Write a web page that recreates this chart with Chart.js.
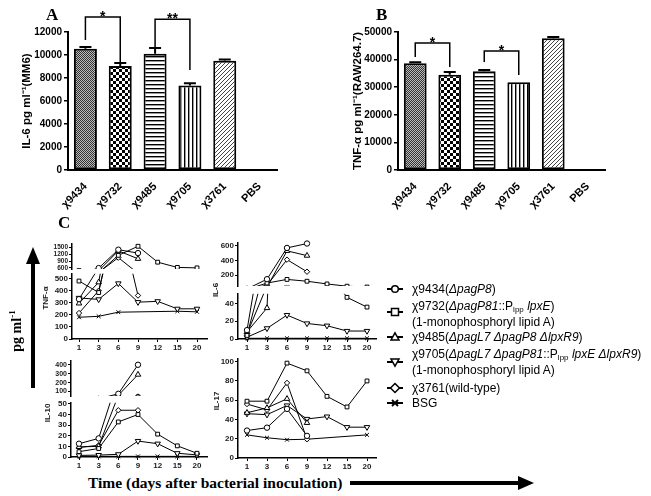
<!DOCTYPE html>
<html>
<head>
<meta charset="utf-8">
<script src="https://cdn.jsdelivr.net/npm/chart.js@4.4.0/dist/chart.umd.min.js"></script>
<style>
  html, body { margin: 0; padding: 0; background: #fff; }
  body { position: relative; width: 651px; height: 496px; overflow: hidden; font-family: "Liberation Sans", Arial, sans-serif; color: #000; }
  canvas { position: absolute; }
  .t { position: absolute; white-space: nowrap; line-height: 1; }
  .serif { font-family: "Liberation Serif", "Times New Roman", serif; font-weight: bold; }
  .rot { transform: translate(-50%, -50%) rotate(-90deg); }
  .small { font-size: 8px; font-weight: bold; color: #222; }
  .legline { position: absolute; left: 412px; font-size: 12px; line-height: 14px; white-space: nowrap; transform: translateY(-50%); }
  .legmark { position: absolute; left: 386px; }
  sub { font-size: 8px; vertical-align: -2px; line-height: 0; }
</style>
</head>
<body>
<canvas id="barA"></canvas>
<canvas id="barB"></canvas>
<canvas id="tnfUp"></canvas>
<canvas id="tnfLo"></canvas>
<canvas id="il6Up"></canvas>
<canvas id="il6Lo"></canvas>
<canvas id="il10Up"></canvas>
<canvas id="il10Lo"></canvas>
<canvas id="il17"></canvas>

<div class="t serif" style="left:46px;top:6px;font-size:17px">A</div>
<div class="t serif" style="left:376px;top:6px;font-size:17px">B</div>
<div class="t serif" style="left:58px;top:214px;font-size:17px">C</div>
<div class="t small rot" style="left:46px;top:298px">TNF-α</div>
<div class="t small rot" style="left:216px;top:290px">IL-6</div>
<div class="t small rot" style="left:48px;top:413px">IL-10</div>
<div class="t small rot" style="left:217px;top:401px">IL-17</div>
<div class="t serif rot" style="left:16px;top:331px;font-size:14px">pg ml<sup style="font-size:9px">-1</sup></div>
<div class="t serif" style="left:88px;top:475px;font-size:15.5px">Time (days after bacterial inoculation)</div>

<svg style="position:absolute;left:0;top:0" width="651" height="496">
  <line x1="33" y1="262" x2="33" y2="388" stroke="#000" stroke-width="4"/>
  <polygon points="26,264 40,264 33,247" fill="#000"/>
  <line x1="350" y1="483" x2="520" y2="483" stroke="#000" stroke-width="4"/>
  <polygon points="518,476 518,490 534,483" fill="#000"/>
</svg>

<div id="legend"></div>

<script>
// panels A and B: in vitro cytokine release
const strains = ['χ9434', 'χ9732', 'χ9485', 'χ9705', 'χ3761', 'PBS'];
const il6Mm6 = [10550, 9050, 10100, 7350, 9500, 0];
const il6Mm6Err = [150, 250, 500, 200, 100, 0];
const il6Mm6Ticks = [0, 2000, 4000, 6000, 8000, 10000, 12000];
const tnfRaw = [38700, 34500, 35800, 31800, 47700, 0];
const tnfRawErr = [300, 1000, 400, 0, 500, 0];
const tnfRawTicks = [0, 10000, 20000, 30000, 40000, 50000];

// panel C: serum cytokines, one row per group (same order as groups)
const days = ['1', '3', '6', '9', '12', '15', '20'];
const groups = ['χ9434', 'χ9732', 'χ9485', 'χ9705', 'χ3761', 'BSG'];
const tnfC = [
  [330, 590, 1400, 1250],
  [480, 385, 1150, 1550, 850, 620, 600],
  [295, 470, 1350, 1000],
  [340, 328, 460, 305, 312, 250, 250],
  [215, 400, 1050, 360],
  [180, 188, 222, null, null, 230, 225]
];
const il6C = [
  [10, 143, 570, 630],
  [4, 90, 140, 115, 78, 47, 36],
  [8, 35, 530, 465],
  [2, 12, 27, 17.5, 15, 9, 9],
  [6, 60, 410, 245],
  [0.8, 0.8, 0.8, 0.8, 0.8, 0.8, 0.8]
];
const il10C = [
  [12.5, 17.5, 75, 400],
  [5, 8, 33, 40, 21.5, 10.5, 3.5],
  [9.5, 10, 58, 290],
  [1.5, 1.8, 2.5, 15, 12.5, 3.5, 2],
  [9, 11, 44, 44],
  [0.6, 0.6, 0.6, 0.6, 0.6, 0.6, 0.6]
];
const il17C = [
  [28.5, 31.5, 51, 23],
  [59, 59, 98.5, 90.5, 64, 53, 80],
  [47, 52, 61.5, 36.5],
  [46, 45, 54.5, 40.5, 43, 32, 32],
  [56, 50, 78, 19.5],
  [24, 21, 19, 19.5, null, null, 24]
];
const tnfLoTicks = [0, 100, 200, 300, 400, 500];
const tnfUpTicks = [600, 900, 1200, 1500];
const il6LoTicks = [0, 20, 40];
const il6UpTicks = [200, 400, 600];
const il10LoTicks = [0, 10, 20, 30, 40, 50];
const il10UpTicks = [100, 200, 300, 400];
const il17Ticks = [0, 20, 40, 60, 80, 100];

const markers = ['circle', 'rect', 'triangle', 'triangle', 'rectRot', 'crossRot'];
const legendLines = [
  ['χ9434(<i>ΔpagP8</i>)'],
  ['χ9732(<i>ΔpagP81</i>::P<sub>lpp</sub> <i>lpxE</i>)', '(1-monophosphoryl lipid A)'],
  ['χ9485(<i>ΔpagL7 ΔpagP8 ΔlpxR9</i>)'],
  ['χ9705(<i>ΔpagL7 ΔpagP81</i>::P<sub>lpp</sub> <i>lpxE ΔlpxR9</i>)', '(1-monophosphoryl lipid A)'],
  ['χ3761(wild-type)'],
  ['BSG']
];

Chart.defaults.font.family = '"Liberation Sans", Arial, sans-serif';
Chart.defaults.color = '#000';

// put a canvas so that its chart area lands on the given box
function mount(id, plot, yw, xh, pad) {
  const c = document.getElementById(id);
  const w = plot.r - plot.l + yw + pad.r;
  const h = plot.b - plot.t + pad.t + xh + pad.b;
  c.style.left = (plot.l - yw) + 'px';
  c.style.top = (plot.t - pad.t) + 'px';
  c.width = w; c.height = h;
  c.style.width = w + 'px'; c.style.height = h + 'px';
  return c;
}

function makePattern(w, h, paint) {
  const c = document.createElement('canvas');
  c.width = w; c.height = h;
  const g = c.getContext('2d');
  g.fillStyle = '#fff'; g.fillRect(0, 0, w, h);
  g.fillStyle = '#000';
  paint(g);
  return g.createPattern(c, 'repeat');
}
const fills = [
  makePattern(2, 2, g => { g.fillStyle = '#bbb'; g.fillRect(0, 0, 2, 2); g.fillStyle = '#333'; g.fillRect(0, 0, 1, 1); g.fillRect(1, 1, 1, 1); }),
  makePattern(6, 6, g => { g.fillRect(0, 0, 3, 3); g.fillRect(3, 3, 3, 3); }),
  makePattern(1, 4, g => { g.fillRect(0, 0, 1, 1.4); }),
  makePattern(4, 1, g => { g.fillRect(0, 0, 1.4, 1); }),
  makePattern(4, 4, g => { g.fillStyle = '#444'; g.fillRect(3, 0, 1, 1); g.fillRect(2, 1, 1, 1); g.fillRect(1, 2, 1, 1); g.fillRect(0, 3, 1, 1); }),
  '#fff'
];

function errBars(errs) {
  return {
    id: 'errBars',
    afterDatasetsDraw(chart) {
      const ctx = chart.ctx, y = chart.scales.y, meta = chart.getDatasetMeta(0);
      const vals = chart.data.datasets[0].data;
      ctx.save();
      ctx.strokeStyle = '#000'; ctx.lineWidth = 2;
      meta.data.forEach((bar, i) => {
        if (!errs[i]) return;
        const yt = y.getPixelForValue(vals[i] + errs[i]);
        ctx.beginPath();
        ctx.moveTo(bar.x, bar.y); ctx.lineTo(bar.x, yt);
        ctx.moveTo(bar.x - 6, yt); ctx.lineTo(bar.x + 6, yt);
        ctx.stroke();
      });
      ctx.restore();
    }
  };
}

function brackets(list) {
  return {
    id: 'brackets',
    afterDraw(chart) {
      const ctx = chart.ctx, y = chart.scales.y, meta = chart.getDatasetMeta(0);
      ctx.save();
      ctx.strokeStyle = '#000'; ctx.fillStyle = '#000'; ctx.lineWidth = 1.5;
      ctx.font = 'bold 14px "Liberation Sans", Arial';
      ctx.textAlign = 'center'; ctx.textBaseline = 'alphabetic';
      list.forEach(b => {
        const x1 = meta.data[b.from].x, x2 = meta.data[b.to].x;
        const yt = y.getPixelForValue(b.top);
        ctx.beginPath();
        ctx.moveTo(x1, y.getPixelForValue(b.left));
        ctx.lineTo(x1, yt); ctx.lineTo(x2, yt);
        ctx.lineTo(x2, y.getPixelForValue(b.right));
        ctx.stroke();
        ctx.fillText(b.mark, (x1 + x2) / 2, yt + 4);
      });
      ctx.restore();
    }
  };
}

function barChart(id, plot, values, errs, ticks, title, marks) {
  const xh = 46, pad = { t: plot.t, r: 8, b: 0 };
  const cv = mount(id, plot, plot.yw, xh, pad);
  return new Chart(cv, {
    type: 'bar',
    data: {
      labels: strains,
      datasets: [{
        data: values, backgroundColor: fills, borderColor: '#000', borderWidth: 2,
        borderSkipped: false, barPercentage: 0.66, categoryPercentage: 1
      }]
    },
    options: {
      responsive: false, animation: false,
      layout: { padding: { top: pad.t, right: pad.r, bottom: 0, left: 0 } },
      plugins: { legend: { display: false }, tooltip: { enabled: false } },
      scales: {
        x: {
          grid: { display: false },
          border: { color: '#000', width: 2 },
          ticks: { minRotation: 45, maxRotation: 45, font: { size: 11, weight: 'bold' }, padding: 2 },
          afterFit: s => { s.height = xh; }
        },
        y: {
          min: 0, max: ticks[ticks.length - 1],
          grid: { drawOnChartArea: false, color: '#000', tickLength: 4, lineWidth: 1.5 },
          border: { color: '#000', width: 2 },
          ticks: { font: { size: 10, weight: 'bold' }, padding: 2, autoSkip: false, callback: v => String(v) },
          afterBuildTicks: s => { s.ticks = ticks.map(v => ({ value: v })); },
          title: { display: true, text: title, font: { size: 11.5, weight: 'bold' }, padding: 0 },
          afterFit: s => { s.width = plot.yw; }
        }
      }
    },
    plugins: [errBars(errs), brackets(marks)]
  });
}

// upper segments of a broken axis keep their lines clipped at the bottom,
// lower segments at the top, so crossing lines run out of the plot like the figure
function lineChart(id, plot, vals, yr, ticks, xr, withX, tickSize, upper) {
  const yw = 26, xh = withX ? 14 : 0;
  const pad = { t: 5, r: 6, b: withX ? 0 : 6 };
  const cv = mount(id, plot, yw, xh, pad);
  const clip = upper ? { left: 4, right: 4, top: 4, bottom: 0 } : { left: 4, right: 4, top: 0, bottom: 4 };
  return new Chart(cv, {
    type: 'line',
    data: {
      datasets: groups.map((g, k) => ({
        label: g,
        data: vals[k].map((v, i) => ({ x: i, y: v })),
        borderColor: '#000', borderWidth: 1, tension: 0, spanGaps: true, clip: clip,
        pointStyle: markers[k], pointRotation: k === 3 ? 180 : 0,
        pointRadius: k === 2 || k === 3 ? 3.2 : 2.7, pointBorderWidth: 1,
        pointBackgroundColor: '#fff', pointBorderColor: '#000'
      }))
    },
    options: {
      responsive: false, animation: false,
      layout: { padding: { top: pad.t, right: pad.r, bottom: pad.b, left: 0 } },
      plugins: { legend: { display: false }, tooltip: { enabled: false } },
      scales: {
        x: {
          type: 'linear', min: xr[0], max: xr[1], display: withX,
          grid: { drawOnChartArea: false, color: '#000', tickLength: 3, lineWidth: 1 },
          border: { color: '#000', width: 1.5 },
          ticks: { font: { size: 8, weight: 'bold' }, color: '#222', padding: 1, autoSkip: false, maxRotation: 0, callback: v => days[v] },
          afterBuildTicks: s => { s.ticks = days.map((d, i) => ({ value: i })); },
          afterFit: s => { s.height = xh; }
        },
        y: {
          min: yr[0], max: yr[1],
          grid: { drawOnChartArea: false, color: '#000', tickLength: 3, lineWidth: 1 },
          border: { color: '#000', width: 1.5 },
          ticks: { font: { size: tickSize || 8, weight: 'bold' }, color: '#222', padding: 1, autoSkip: false, callback: v => String(v) },
          afterBuildTicks: s => { s.ticks = ticks.map(v => ({ value: v })); },
          afterFit: s => { s.width = yw; }
        }
      }
    }
  });
}

barChart('barA', { l: 68, r: 277, t: 32, b: 170, yw: 48 }, il6Mm6, il6Mm6Err, il6Mm6Ticks,
  'IL-6 pg ml⁻¹(MM6)',
  [{ from: 0, to: 1, top: 13300, left: 11300, right: 9400, mark: '*' },
   { from: 2, to: 3, top: 13100, left: 10700, right: 8700, mark: '**' }]);
barChart('barB', { l: 398, r: 605, t: 32, b: 170, yw: 47 }, tnfRaw, tnfRawErr, tnfRawTicks,
  'TNF-α pg ml⁻¹(RAW264.7)',
  [{ from: 0, to: 1, top: 46000, left: 40900, right: 37300, mark: '*' },
   { from: 2, to: 3, top: 43100, left: 39100, right: 34400, mark: '*' }]);

const xLeft = [-0.356, 6.508];
const xRight = [-0.45, 6.45];
lineChart('tnfUp', { l: 72, r: 207, t: 244, b: 269 }, tnfC, [550, 1650], tnfUpTicks, xLeft, false, 6.5, true);
lineChart('tnfLo', { l: 72, r: 207, t: 273, b: 339 }, tnfC, [0, 540], tnfLoTicks, xLeft, true);
lineChart('il6Up', { l: 238, r: 376, t: 242, b: 286 }, il6C, [50, 640], il6UpTicks, xRight, false, 8, true);
lineChart('il6Lo', { l: 238, r: 376, t: 293, b: 339 }, il6C, [0, 51], il6LoTicks, xRight, true);
lineChart('il10Up', { l: 71, r: 207, t: 361, b: 396 }, il10C, [50, 440], il10UpTicks, [-0.407, 6.51], false, 7, true);
lineChart('il10Lo', { l: 71, r: 207, t: 402, b: 457 }, il10C, [0, 51], il10LoTicks, [-0.407, 6.51], true);
lineChart('il17', { l: 238, r: 376, t: 358, b: 458 }, il17C, [0, 103], il17Ticks, xRight, true);

// legend: marker centre and text line centres
const markY = [289, 312, 337, 362, 388, 403];
const lineY = [[289], [306, 322], [337], [354, 370], [388], [403]];
const shapes = [
  '<circle cx="9" cy="7" r="3.3" fill="#fff" stroke="#000" stroke-width="1.5"/>',
  '<rect x="5.5" y="3.5" width="7" height="7" fill="#fff" stroke="#000" stroke-width="1.5"/>',
  '<polygon points="9,2.8 13,10 5,10" fill="#fff" stroke="#000" stroke-width="1.5"/>',
  '<polygon points="9,11.2 13,4 5,4" fill="#fff" stroke="#000" stroke-width="1.5"/>',
  '<polygon points="9,2.5 13.5,7 9,11.5 4.5,7" fill="#fff" stroke="#000" stroke-width="1.5"/>',
  '<path d="M6 4 L12 10 M12 4 L6 10" stroke="#000" stroke-width="1.8"/>'
];
const leg = document.getElementById('legend');
groups.forEach((g, k) => {
  const m = document.createElement('div');
  m.className = 'legmark';
  m.style.top = (markY[k] - 7) + 'px';
  m.innerHTML = '<svg width="20" height="14"><line x1="1" y1="7" x2="17" y2="7" stroke="#000" stroke-width="2"/>' + shapes[k] + '</svg>';
  leg.appendChild(m);
  legendLines[k].forEach((txt, j) => {
    const d = document.createElement('div');
    d.className = 'legline';
    d.style.top = lineY[k][j] + 'px';
    d.innerHTML = txt;
    leg.appendChild(d);
  });
});
</script>
</body>
</html>
